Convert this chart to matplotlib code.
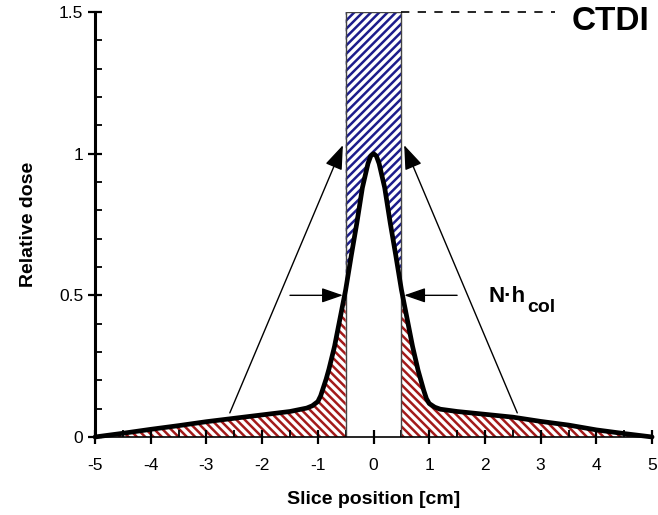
import numpy as np
import matplotlib.pyplot as plt

plt.rcParams['font.family'] = ['Liberation Sans', 'DejaVu Sans']
plt.rcParams['hatch.linewidth'] = 1.8

# dose profile
pos = [-5.0, -4.5, -4.0, -3.5, -3.0, -2.5, -2.0, -1.5, -1.2, -1.1, -1.0, -0.95, -0.9,
       -0.85, -0.8, -0.7, -0.6, -0.5, -0.4, -0.3, -0.2, -0.1, -0.05, 0.0,
       0.05, 0.1, 0.2, 0.3, 0.4, 0.5, 0.6, 0.7, 0.8, 0.85, 0.9, 0.95, 1.0, 1.1,
       1.2, 1.5, 2.0, 2.5, 3.0, 3.5, 4.0, 4.5, 5.0]
dose = [0.0, 0.013, 0.027, 0.040, 0.054, 0.066, 0.078, 0.090, 0.102, 0.110, 0.125, 0.145, 0.175,
        0.205, 0.240, 0.320, 0.420, 0.520, 0.640, 0.755, 0.880, 0.965, 0.992, 1.000,
        0.992, 0.965, 0.880, 0.755, 0.640, 0.520, 0.420, 0.320, 0.235, 0.200, 0.165, 0.135, 0.118, 0.105,
        0.098, 0.090, 0.080, 0.070, 0.055, 0.042, 0.025, 0.012, 0.0]

slice_lo, slice_hi = -0.5, 0.5
ctdi = 1.5
x_ticks = [-5, -4, -3, -2, -1, 0, 1, 2, 3, 4, 5]
y_ticks = [0, 0.5, 1, 1.5]
y_tick_labels = ['0', '0.5', '1', '1.5']

pos = np.array(pos)
dose = np.array(dose)

fig = plt.figure(figsize=(6.58, 5.15), dpi=100)
ax = fig.add_axes([0.1444, 0.1515, 0.8466, 0.8252])

red = '#a31a1a'
blue = '#1c1c8c'

# tails outside the slice (red)
left = pos <= slice_lo
right = pos >= slice_hi
ax.fill_between(pos[left], 0, dose[left], facecolor='white', edgecolor=red,
                hatch='\\\\\\\\', linewidth=0)
ax.fill_between(pos[right], 0, dose[right], facecolor='white', edgecolor=red,
                hatch='\\\\\\\\', linewidth=0)

# CTDI block above the curve (blue)
mid = (pos >= slice_lo) & (pos <= slice_hi)
ax.fill_between(pos[mid], dose[mid], ctdi, facecolor='white', edgecolor=blue,
                hatch='////', linewidth=0)

# slice outline
ax.plot([slice_lo, slice_lo, slice_hi, slice_hi], [0, ctdi, ctdi, 0],
        color='#444444', lw=1.0)

ax.plot(pos, dose, color='black', lw=3.4, solid_capstyle='round',
        solid_joinstyle='round', clip_on=False)

# dashed CTDI level
ax.plot([slice_hi, 3.26], [ctdi, ctdi], color='black', lw=1.2,
        linestyle=(0, (5, 5)), clip_on=False)
ax.text(3.55, 1.465, 'CTDI', fontsize=24, fontweight='bold', ha='left',
        va='center', clip_on=False)

# long arrows
arrow_kw = dict(arrowstyle='-|>,head_length=1.5,head_width=0.55', color='black',
                lw=1.0, shrinkA=0, shrinkB=0)
ax.annotate('', xy=(-0.55, 1.03), xytext=(-2.58, 0.085), arrowprops=arrow_kw)
ax.annotate('', xy=(0.55, 1.03), xytext=(2.58, 0.085), arrowprops=arrow_kw)

# short arrows marking the slice width
short_kw = dict(arrowstyle='-|>,head_length=1.3,head_width=0.45', color='black',
                lw=1.0, shrinkA=0, shrinkB=0)
ax.annotate('', xy=(-0.55, 0.5), xytext=(-1.5, 0.5), arrowprops=short_kw)
ax.annotate('', xy=(0.55, 0.5), xytext=(1.5, 0.5), arrowprops=short_kw)

ax.text(2.06, 0.478, 'N·h', fontsize=16, fontweight='bold',
        ha='left', va='baseline')
ax.text(2.76, 0.44, 'col', fontsize=14, fontweight='bold',
        ha='left', va='baseline')

ax.set_xlim(-5, 5)
ax.set_ylim(0, 1.5)
ax.set_xticks(x_ticks)
ax.set_xticklabels([str(t) for t in x_ticks])
ax.set_xticks(np.arange(-5, 5.01, 0.5), minor=True)
ax.set_yticks(y_ticks)
ax.set_yticklabels(y_tick_labels)
ax.set_yticks(np.arange(0, 1.51, 0.1), minor=True)

ax.tick_params(which='major', direction='inout', length=10, width=1.6, labelsize=12.5)
ax.tick_params(which='minor', direction='in', length=5, width=1.3)
ax.tick_params(axis='x', which='major', pad=10)

for side in ['top', 'right']:
    ax.spines[side].set_visible(False)
ax.spines['left'].set_linewidth(2.2)
ax.spines['bottom'].set_linewidth(1.2)

ax.set_xlabel('Slice position [cm]', fontsize=14, fontweight='bold', labelpad=13)
ax.set_ylabel('Relative dose', fontsize=14, fontweight='bold', labelpad=16)

fig.savefig('out.png', dpi=100)
